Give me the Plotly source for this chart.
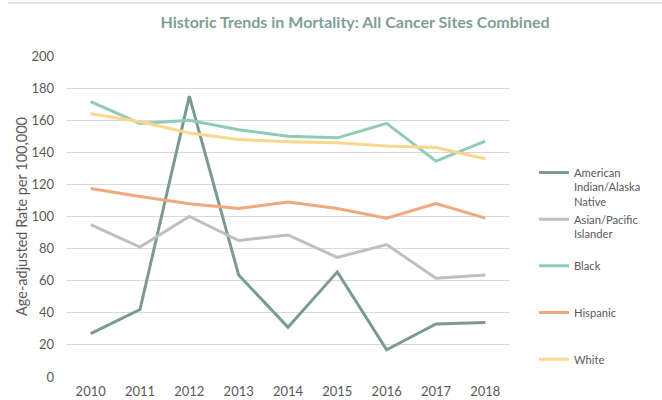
import plotly.graph_objects as go

years = ["2010", "2011", "2012", "2013", "2014", "2015", "2016", "2017", "2018"]
series_names = ["American<br>Indian/Alaska<br>Native", "Asian/Pacific<br>Islander<br>&nbsp;",
                "Black<br>&nbsp;<br>&nbsp;", "Hispanic<br>&nbsp;<br>&nbsp;", "White<br>&nbsp;<br>&nbsp;"]
aian = [27, 42, 175, 63.5, 31, 65.5, 17, 33, 34]
asian = [95, 81, 100, 85, 88.5, 74.5, 82.5, 61.5, 63.5]
black = [171.5, 158, 160, 154, 150, 149, 158, 134.5, 147]
hispanic = [117.5, 112.5, 108, 105, 109, 105, 99, 108, 99]
white = [164, 159, 152, 148, 146.5, 146, 144, 143, 136]
colors = ["#7A9A92", "#BFBFBF", "#8FCBB5", "#F1A87C", "#FBD68E"]
y_ticks = [0, 20, 40, 60, 80, 100, 120, 140, 160, 180, 200]

fig = go.Figure()
for name, vals, c in zip(series_names, [aian, asian, black, hispanic, white], colors):
    fig.add_trace(go.Scatter(x=years, y=vals, mode="lines", name=name,
                             line=dict(color=c, width=3), legendgroup=name))

fig.update_layout(
    width=662, height=400,
    paper_bgcolor="white", plot_bgcolor="white",
    margin=dict(l=66, r=152, t=56, b=23, autoexpand=False),
    font=dict(family="Lato, 'Open Sans', sans-serif", color="#595959", size=12),
    title=dict(text="Historic Trends in Mortality: All Cancer Sites Combined",
               x=355 / 662, xref="container", xanchor="center",
               y=1 - 22 / 400, yref="container", yanchor="middle",
               font=dict(size=16, color="#7F9E97", family="Lato, 'Open Sans', sans-serif", weight=700)),
    xaxis=dict(type="category", range=[-0.5, 8.5], showgrid=False, showline=False,
               ticks="", automargin=False, ticklabelstandoff=5,
               tickfont=dict(size=13, color="#595959")),
    yaxis=dict(range=[0, 200], tickvals=y_ticks, showgrid=True, gridcolor="#D9D9D9",
               gridwidth=1, zeroline=False, ticks="", ticklen=0, automargin=False,
               ticklabelstandoff=11,
               title=dict(text="Age-adjusted Rate per 100,000", font=dict(size=14.5, color="#595959"),
                          standoff=0),
               tickfont=dict(size=13, color="#595959")),
    legend=dict(x=1.054, xanchor="left", y=0.68, yanchor="top", tracegroupgap=0,
                font=dict(size=11.2, color="#595959"), itemwidth=30, valign="top",
                bgcolor="rgba(0,0,0,0)"),
    shapes=[dict(type="line", xref="paper", yref="paper", x0=-0.13, x1=1.35, y0=1.165, y1=1.165,
                 line=dict(color="#E3E3E3", width=2))],
)
fig.write_html("out.html", post_script="document.body.style.margin='0';",
               config={"displayModeBar": False})
